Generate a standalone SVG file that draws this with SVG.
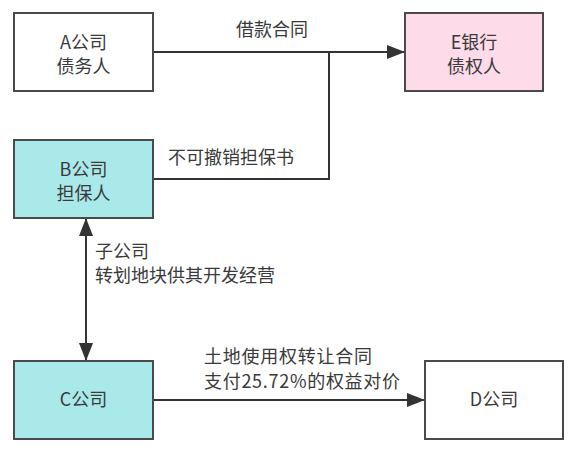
<svg xmlns="http://www.w3.org/2000/svg" width="577" height="459" viewBox="0 0 577 459">
<defs>
<marker id="ah" markerUnits="userSpaceOnUse" markerWidth="18" markerHeight="14" refX="18" refY="7" orient="auto-start-reverse">
<path d="M0,0 L18,7 L0,14 Z" fill="#333"/>
</marker>
<style>
.box{stroke:#4a4a4a;stroke-width:2}
.t{font-family:"Microsoft YaHei","Noto Sans CJK SC",sans-serif;font-size:18px;fill:#3a3a3a}
.m{text-anchor:middle}
.c{fill:none;stroke:#333;stroke-width:2}
</style>
</defs>
<rect width="577" height="459" fill="#fff"/>
<g id="connectors">
<path class="c" d="M153,52 H405" marker-end="url(#ah)"/>
<path class="c" d="M153,179 H329 V52"/>
<path class="c" d="M86,218 V361" marker-start="url(#ah)" marker-end="url(#ah)"/>
<path class="c" d="M153,400 H425" marker-end="url(#ah)"/>
<text class="t m" x="272" y="36">借款合同</text>
<text class="t" x="168" y="164">不可撤销担保书</text>
<text class="t" x="95" y="258">子公司</text>
<text class="t" x="95" y="282">转划地块供其开发经营</text>
<text class="t" x="204" y="363" textLength="168">土地使用权转让合同</text>
<text class="t" x="204" y="388" textLength="196">支付25.72%的权益对价</text>
</g>
<g id="nodeA">
<rect class="box" x="14" y="13" width="139" height="78" fill="#fff"/>
<text class="t m" x="83.5" y="49">A公司</text>
<text class="t m" x="83.5" y="73">债务人</text>
</g>
<g id="nodeE">
<rect class="box" x="405" y="13" width="138" height="78" fill="#fddbe8"/>
<text class="t m" x="474" y="49">E银行</text>
<text class="t m" x="474" y="73">债权人</text>
</g>
<g id="nodeB">
<rect class="box" x="14" y="140" width="139" height="78" fill="#a9e9ea"/>
<text class="t m" x="83.5" y="176">B公司</text>
<text class="t m" x="83.5" y="200">担保人</text>
</g>
<g id="nodeC">
<rect class="box" x="14" y="361" width="139" height="78" fill="#a9e9ea"/>
<text class="t m" x="83.5" y="406">C公司</text>
</g>
<g id="nodeD">
<rect class="box" x="425" y="361" width="138" height="78" fill="#fff"/>
<text class="t m" x="494" y="406">D公司</text>
</g>
</svg>
